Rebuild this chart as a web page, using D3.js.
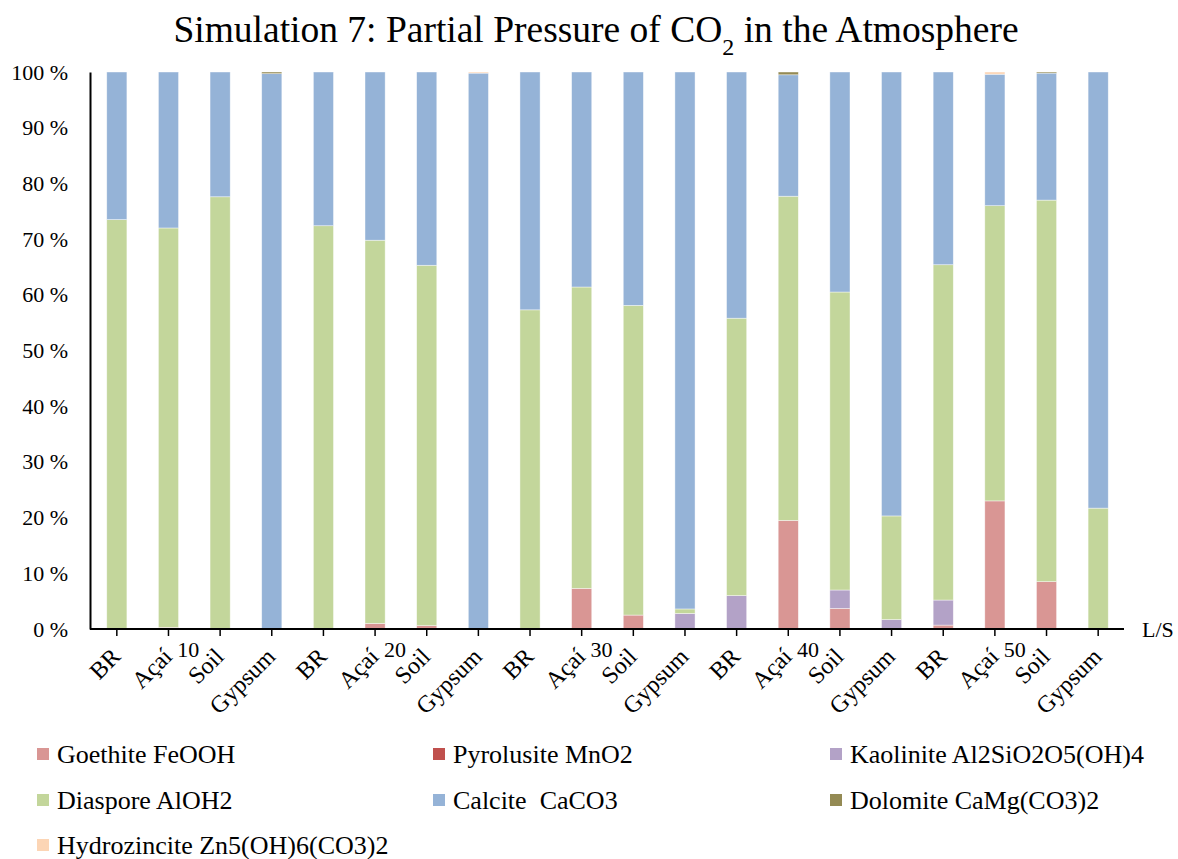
<!DOCTYPE html>
<html>
<head>
<meta charset="utf-8">
<script src="https://cdn.jsdelivr.net/npm/d3@7/dist/d3.min.js"></script>
<style>
  body { margin: 0; background: #fff; }
  text { font-family: "Liberation Serif", "Times New Roman", serif; fill: #000; }
</style>
</head>
<body>
<svg id="chart" width="1178" height="859"></svg>
<script>
// Sample labels along the L/S axis
const categories = ["BR","Açaí","Soil","Gypsum","BR","Açaí","Soil","Gypsum","BR","Açaí",
                    "Soil","Gypsum","BR","Açaí","Soil","Gypsum","BR","Açaí","Soil","Gypsum"];
const groupLabels = ["10","20","30","40","50"];

// Mineral fractions (%) per sample
const goethite     = [0,0.3,0,0,0,1.0,0.6,0,0,7.3,2.5,0,0,19.5,3.7,0,0.7,23.0,8.5,0];
const pyrolusite   = [0,0,0,0,0,0,0,0,0,0,0,0,0,0,0,0,0,0,0,0];
const kaolinite    = [0,0,0,0,0,0,0,0,0,0,0,2.8,6.0,0,3.3,1.7,4.5,0,0,0];
const diaspore     = [73.5,71.7,77.6,0,72.4,68.8,64.7,0,57.3,54.1,55.6,0.8,49.8,58.2,53.5,18.6,60.2,53.0,68.5,21.7];
const calcite      = [26.5,28.0,22.4,99.7,27.6,30.2,34.7,99.8,42.7,38.6,41.9,96.4,44.2,21.8,39.5,79.7,34.6,23.6,22.8,78.3];
const dolomite     = [0,0,0,0.3,0,0,0,0,0,0,0,0,0,0.5,0,0,0,0,0.2,0];
const hydrozincite = [0,0,0,0,0,0,0,0.2,0,0,0,0,0,0,0,0,0,0.4,0,0];

const seriesNames = ["Goethite FeOOH","Pyrolusite MnO2","Kaolinite Al2SiO2O5(OH)4",
                     "Diaspore AlOH2","Calcite  CaCO3","Dolomite CaMg(CO3)2",
                     "Hydrozincite Zn5(OH)6(CO3)2"];
const seriesValues = [goethite, pyrolusite, kaolinite, diaspore, calcite, dolomite, hydrozincite];
const colors = ["#D99694","#C0504D","#B3A2C7","#C3D69B","#95B3D7","#948A54","#FCD5B5"];
const yTicks = [0,10,20,30,40,50,60,70,80,90,100];

const svg = d3.select("#chart");
const plotLeft = 90, plotRight = 1124, plotTop = 72, plotBottom = 629;

const rows = categories.map((c, i) => {
  const r = { idx: i };
  seriesNames.forEach((s, k) => r[s] = seriesValues[k][i]);
  return r;
});
const stack = d3.stack().keys(seriesNames)(rows);

const x = d3.scaleBand().domain(d3.range(categories.length)).range([plotLeft + 1, plotRight])
  .paddingInner(0.61).paddingOuter(0.305);
const y = d3.scaleLinear().domain([0, 100]).range([plotBottom, plotTop]);
const color = d3.scaleOrdinal().domain(seriesNames).range(colors);

// Title
const title = svg.append("text").attr("x", 596).attr("y", 42)
  .attr("text-anchor", "middle").style("font-size", "37.5px");
title.append("tspan").text("Simulation 7: Partial Pressure of CO");
title.append("tspan").attr("baseline-shift", "sub").style("font-size", "24px").text("2");
title.append("tspan").text(" in the Atmosphere");

// Bars
svg.append("g").selectAll("g").data(stack).join("g")
  .attr("fill", d => color(d.key))
  .selectAll("rect").data(d => d).join("rect")
  .attr("x", d => x(d.data.idx))
  .attr("width", x.bandwidth())
  .attr("y", d => y(d[1]))
  .attr("height", d => Math.max(0, y(d[0]) - y(d[1])))
  .attr("stroke", "#fff").attr("stroke-opacity", 0.6).attr("stroke-width", 0.7);

// Y axis
const yAxis = d3.axisLeft(y).tickValues(yTicks).tickSize(0).tickPadding(22)
  .tickFormat(d => d + " %");
const yg = svg.append("g").attr("transform", `translate(${plotLeft},0)`).call(yAxis);
yg.select(".domain").attr("stroke", "#000").attr("stroke-width", 2);
yg.selectAll("text").style("font-size", "22px").style("font-family", "Liberation Serif");

// X axis
const xAxis = d3.axisBottom(x).tickSize(7).tickFormat(i => categories[i]);
const xg = svg.append("g").attr("transform", `translate(0,${plotBottom})`).call(xAxis);
xg.select(".domain").attr("stroke", "#000").attr("stroke-width", 2)
  .attr("d", `M${plotLeft},0H${plotRight}`);
xg.selectAll(".tick line").attr("stroke", "#000").attr("stroke-width", 1.5);
xg.selectAll(".tick text")
  .style("font-size", "24px").style("font-family", "Liberation Serif")
  .attr("text-anchor", "end")
  .attr("dy", 0).attr("x", 0).attr("y", 0)
  .attr("transform", "translate(5,29) rotate(-45)");

// Group labels (L/S ratio)
groupLabels.forEach((g, k) => {
  const c = (x(k * 4 + 1) + x(k * 4 + 2) + x.bandwidth()) / 2;
  svg.append("text").attr("x", c - 6).attr("y", 657)
    .attr("text-anchor", "middle").style("font-size", "22px").text(g);
});

svg.append("text").attr("x", 1142).attr("y", 637).style("font-size", "22px").text("L/S");

// Legend
const legendPos = [[37,754],[433,754],[830,754],[37,800],[433,800],[830,800],[37,845]];
seriesNames.forEach((s, k) => {
  const [lx, ly] = legendPos[k];
  svg.append("rect").attr("x", lx).attr("y", ly - 6).attr("width", 12).attr("height", 12)
    .attr("fill", colors[k]);
  svg.append("text").attr("x", lx + 20).attr("y", ly).attr("dy", "0.35em")
    .style("font-size", "26px").style("white-space", "pre").attr("xml:space", "preserve").text(s);
});
</script>
</body>
</html>
